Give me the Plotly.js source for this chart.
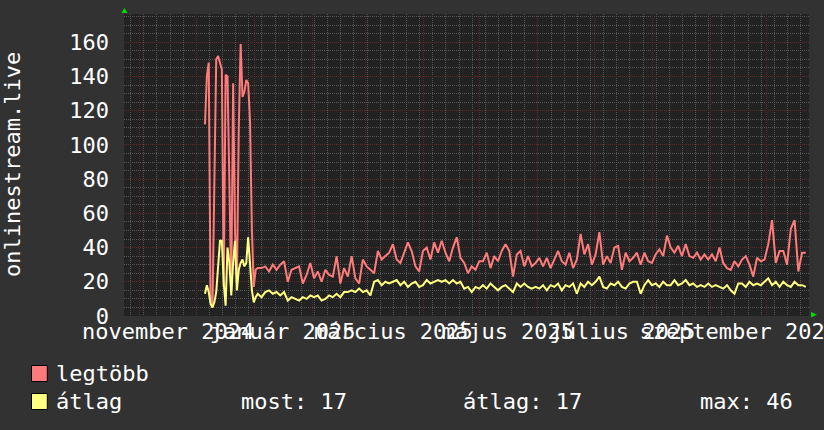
<!DOCTYPE html>
<html>
<head>
<meta charset="utf-8">
<script src="https://cdn.plot.ly/plotly-3.0.1.min.js"></script>
<style>
  html, body { margin: 0; padding: 0; background: #323232; }
  #chart { width: 824px; height: 430px; }
</style>
</head>
<body>
<div id="chart"></div>
<script>
// ---- data ----
// Early period: daily samples starting 2024-12-05 15:00
const startA = '2024-12-05T15:00:00';
const stepA_days = 1;
const maxA = [112,140,148,8,5,90,150,152,148,144,17,141,140,87,15,136,50,20,110,159,128,131,138,136,114,50,17,27];
const avgA = [13,18,14,7,5,8,14,29,44,44,19,6,40,31,12,31,44,15,27,31,33,29,31,46,27,15,8,11];

// Later period: samples every 2 days starting 2025-01-02 18:00
const startB = '2025-01-02T18:00:00';
const stepB_days = 2;
const maxB = [28,28,29,26,30,27,30,32,20,27, 28,29,19,24,31,22,26,20,27,24,
              23,35,19,28,23,35,22,19,33,29, 27,25,38,33,35,37,42,33,31,37,
              43,38,29,26,38,40,33,43,37,44, 37,32,40,46,34,31,25,29,27,32,
              32,37,28,35,32,38,42,38,23,36, 38,29,35,29,31,34,29,34,28,33,
              38,32,30,37,28,33,48,36,42,30, 36,49,30,35,31,40,41,27,37,32,
              34,37,30,37,32,31,36,39,35,47, 40,37,41,35,42,35,34,37,33,36,
              33,36,32,40,31,28,27,32,29,33, 35,30,23,34,32,33,42,56,31,38,
              38,30,51,56,26,37,37];
const avgB = [13,11,14,15,13,14,12,14,9,11, 10,9,11,10,12,11,12,9,10,12,
              11,13,11,14,14,15,14,16,14,15, 12,20,21,18,20,19,20,21,18,20,
              17,19,20,17,18,21,19,20,21,20, 21,19,21,19,20,16,17,14,17,16,
              18,16,19,17,15,17,18,16,14,19, 17,19,17,16,17,16,18,15,18,17,
              19,15,18,17,19,13,19,17,20,18, 20,23,17,16,19,18,20,17,16,19,
              20,20,13,18,21,18,19,17,20,18, 18,21,18,19,21,18,19,17,18,17,
              19,17,18,17,16,18,15,13,19,19, 17,20,18,19,18,20,22,18,20,17,
              20,18,17,20,18,18,17];

const seriesNames = ['legtöbb', 'átlag'];
const seriesColors = ['#ff7a7a', '#ffff80'];
const statLabels = ['most: 17', 'átlag: 17', 'max: 46'];
const yTitle = 'onlinestream.live';

const xRange = ['2024-10-23T11:30:00', '2025-10-23T10:30:00'];
const monthLabelDates = ['2024-11-16','2025-01-16','2025-03-16','2025-05-16','2025-07-16','2025-09-16'];
const monthLabels = ['november 2024','január 2025','március 2025','május 2025','július 2025','szeptember 2025'];

// ---- build time stamps for the regular samples ----
const DAY = 86400000;
function stamps(start, stepDays, n) {
  const t0 = new Date(start + 'Z').getTime();
  const out = [];
  for (let i = 0; i < n; i++) {
    out.push(new Date(t0 + i * stepDays * DAY).toISOString().slice(0, 19).replace('T', ' '));
  }
  return out;
}
const xs = stamps(startA, stepA_days, maxA.length).concat(stamps(startB, stepB_days, maxB.length));
const maxAll = maxA.concat(maxB);
const avgAll = avgA.concat(avgB);

// ---- layout helpers (pixel -> paper) ----
const L = 124, T = 14, W = 685, H = 302;
const px = x => (x - L) / W;
const py = y => (T + H - y) / H;

const FONT = 'DejaVu Sans Mono';
const FS = 22;
const TXT = '#ffffff';
const gridGray = '#555555';
const gridRed = '#5c2929';

const traces = [
  { x: xs, y: maxAll, type: 'scatter', mode: 'lines', name: seriesNames[0],
    line: { color: seriesColors[0], width: 2 }, xaxis: 'x', yaxis: 'y', hoverinfo: 'skip' },
  { x: xs, y: avgAll, type: 'scatter', mode: 'lines', name: seriesNames[1],
    line: { color: seriesColors[1], width: 2 }, xaxis: 'x2', yaxis: 'y', hoverinfo: 'skip' }
];

const txtFont = { family: FONT, size: FS, color: TXT };

const layout = {
  width: 824, height: 430,
  margin: { l: L, r: 824 - L - W, t: T, b: 430 - T - H, pad: 0 },
  paper_bgcolor: '#323232',
  plot_bgcolor: '#222222',
  showlegend: false,
  font: txtFont,
  xaxis: {
    type: 'date', range: xRange,
    tickmode: 'linear', tick0: '2024-11-01', dtick: 'M1',
    showgrid: true, gridcolor: gridRed, griddash: '1px,1px', gridwidth: 1,
    showticklabels: false, ticks: '', zeroline: false, showline: false,
    minor: { tick0: '2024-10-27', dtick: 7 * DAY, showgrid: true,
             gridcolor: gridGray, griddash: '1px,1px', gridwidth: 1, ticks: '' },
    fixedrange: true
  },
  xaxis2: {
    type: 'date', range: xRange, overlaying: 'x', anchor: 'y', side: 'bottom',
    tickmode: 'array', tickvals: monthLabelDates, ticktext: monthLabels,
    tickangle: 0, ticks: '', showgrid: false, zeroline: false, showline: false,
    tickfont: txtFont,
    ticklabeloverflow: 'allow', ticklabelstandoff: 0,
    fixedrange: true
  },
  yaxis: {
    range: [0, 176.5],
    tickmode: 'linear', tick0: 0, dtick: 20,
    showgrid: true, gridcolor: gridRed, griddash: '1px,1px', gridwidth: 1,
    ticks: '', zeroline: false, showline: false,
    tickfont: txtFont,
    ticklabelstandoff: 14,
    minor: { dtick: 5, showgrid: true, gridcolor: gridGray, griddash: '1px,1px', gridwidth: 1, ticks: '' },
    fixedrange: true
  },
  annotations: [
    { text: yTitle, xref: 'paper', yref: 'paper', x: px(12), y: py(165),
      textangle: -90, showarrow: false, xanchor: 'center', yanchor: 'middle', font: txtFont },
    { text: seriesNames[0], xref: 'paper', yref: 'paper', x: px(54), y: py(373.5),
      showarrow: false, xanchor: 'left', yanchor: 'middle', font: txtFont },
    { text: seriesNames[1], xref: 'paper', yref: 'paper', x: px(54), y: py(401),
      showarrow: false, xanchor: 'left', yanchor: 'middle', font: txtFont },
    { text: statLabels[0], xref: 'paper', yref: 'paper', x: px(239), y: py(401),
      showarrow: false, xanchor: 'left', yanchor: 'middle', font: txtFont },
    { text: statLabels[1], xref: 'paper', yref: 'paper', x: px(461), y: py(401),
      showarrow: false, xanchor: 'left', yanchor: 'middle', font: txtFont },
    { text: statLabels[2], xref: 'paper', yref: 'paper', x: px(697.5), y: py(401),
      showarrow: false, xanchor: 'left', yanchor: 'middle', font: txtFont }
  ],
  shapes: [
    { type: 'rect', xref: 'paper', yref: 'paper', x0: px(31.5), x1: px(47.3), y0: py(365.5), y1: py(381.5),
      fillcolor: seriesColors[0], line: { color: '#000000', width: 1 } },
    { type: 'rect', xref: 'paper', yref: 'paper', x0: px(31.5), x1: px(47.3), y0: py(393.5), y1: py(409.5),
      fillcolor: seriesColors[1], line: { color: '#000000', width: 1 } },
    { type: 'path', xref: 'paper', yref: 'paper', xsizemode: 'pixel', ysizemode: 'pixel',
      xanchor: 0, yanchor: 1, path: 'M -2.5 1 L 3.5 1 L 0.5 6 Z',
      fillcolor: '#00dd00', line: { width: 0 } },
    { type: 'path', xref: 'paper', yref: 'paper', xsizemode: 'pixel', ysizemode: 'pixel',
      xanchor: 1, yanchor: 0, path: 'M 2 4 L 2 -1.5 L 8 1.2 Z',
      fillcolor: '#00dd00', line: { width: 0 } }
  ]
};

Plotly.newPlot('chart', traces, layout, { staticPlot: true, displayModeBar: false });
</script>
</body>
</html>
